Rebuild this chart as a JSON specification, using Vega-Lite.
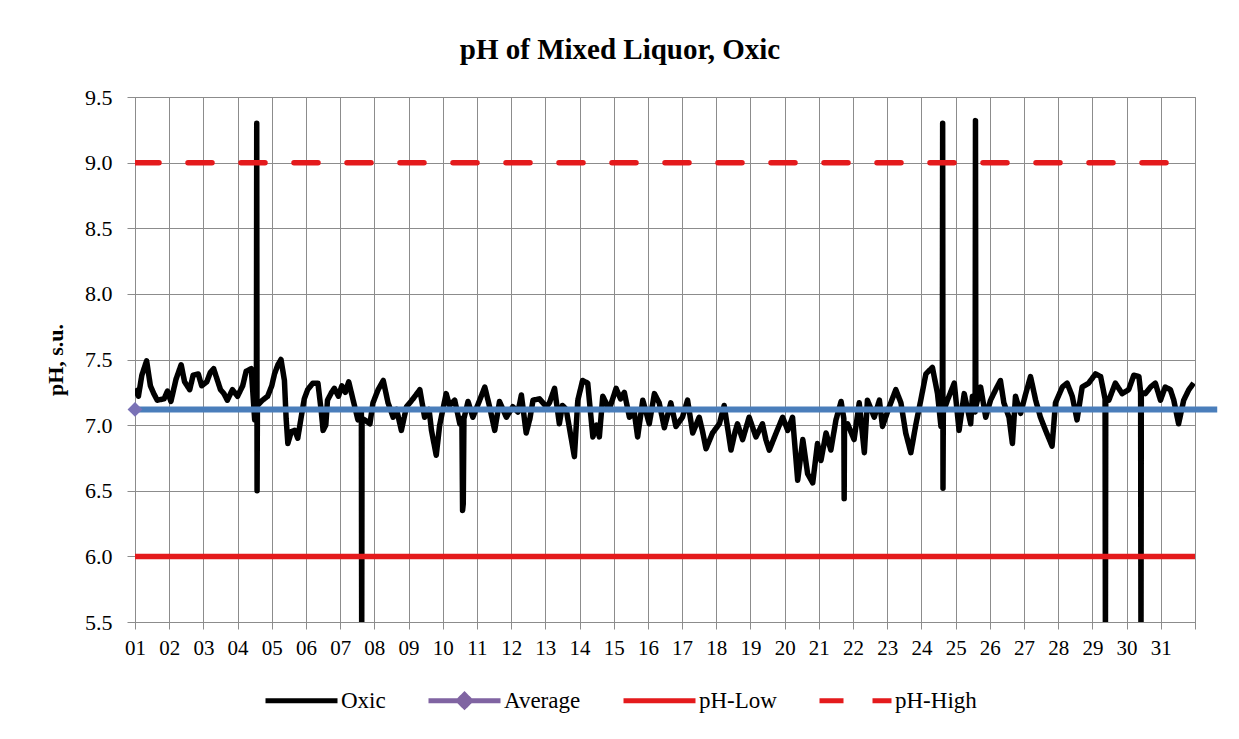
{
  "$schema": "https://vega.github.io/schema/vega-lite/v6.json",
  "autosize": "none",
  "width": 1060,
  "height": 525,
  "padding": {"left": 135, "top": 97, "right": 44, "bottom": 117},
  "background": "white",
  "title": {"text": "pH of Mixed Liquor,  Oxic", "font": "Liberation Serif", "fontSize": 29, "fontWeight": "bold", "color": "#000000", "anchor": "middle", "frame": "group", "dx": -45, "offset": 21},
  "config": {
    "view": {"stroke": "#8c8c8c", "strokeWidth": 1},
    "font": "Liberation Serif",
    "legend": {"labelFont": "Liberation Serif"},
    "axis": {"labelFont": "Liberation Serif", "labelFontSize": 21, "labelColor": "#000000", "gridColor": "#8c8c8c", "gridOpacity": 1, "gridWidth": 1, "domainColor": "#8c8c8c", "tickColor": "#8c8c8c", "titleFont": "Liberation Serif", "titleColor": "#000000"}
  },
  "datasets": {
    "oxic": [
      {"d":1.00,"v":7.28},{"d":1.10,"v":7.22},{"d":1.20,"v":7.38},{"d":1.34,"v":7.49},{"d":1.45,"v":7.30},{"d":1.55,"v":7.24},{"d":1.65,"v":7.19},{"d":1.85,"v":7.20},{"d":1.95,"v":7.26},{"d":2.05,"v":7.18},{"d":2.20,"v":7.35},{"d":2.35,"v":7.46},{"d":2.45,"v":7.33},{"d":2.60,"v":7.27},{"d":2.70,"v":7.38},{"d":2.85,"v":7.39},{"d":2.95,"v":7.30},{"d":3.10,"v":7.33},{"d":3.20,"v":7.40},{"d":3.30,"v":7.43},{"d":3.40,"v":7.35},{"d":3.50,"v":7.27},{"d":3.60,"v":7.24},{"d":3.70,"v":7.19},{"d":3.85,"v":7.27},{"d":4.00,"v":7.22},{"d":4.15,"v":7.30},{"d":4.25,"v":7.41},{"d":4.40,"v":7.43},{"d":4.50,"v":7.04},{"d":4.55,"v":7.10},{"d":4.56,"v":9.30},{"d":4.57,"v":6.50},{"d":4.58,"v":7.15},{"d":4.73,"v":7.19},{"d":4.88,"v":7.22},{"d":5.00,"v":7.30},{"d":5.08,"v":7.39},{"d":5.18,"v":7.46},{"d":5.27,"v":7.50},{"d":5.37,"v":7.34},{"d":5.42,"v":7.05},{"d":5.47,"v":6.86},{"d":5.57,"v":6.95},{"d":5.67,"v":6.96},{"d":5.76,"v":6.90},{"d":5.86,"v":7.06},{"d":5.95,"v":7.20},{"d":6.05,"v":7.27},{"d":6.20,"v":7.32},{"d":6.35,"v":7.32},{"d":6.45,"v":7.10},{"d":6.50,"v":6.96},{"d":6.58,"v":7.00},{"d":6.63,"v":7.19},{"d":6.75,"v":7.25},{"d":6.83,"v":7.28},{"d":6.95,"v":7.22},
      {"d":7.05,"v":7.30},{"d":7.15,"v":7.25},{"d":7.25,"v":7.33},{"d":7.38,"v":7.19},{"d":7.52,"v":7.04},{"d":7.62,"v":7.10},{"d":7.63,"v":5.30},{"d":7.64,"v":7.05},{"d":7.72,"v":7.04},{"d":7.87,"v":7.01},{"d":7.96,"v":7.17},{"d":8.11,"v":7.27},{"d":8.26,"v":7.34},{"d":8.40,"v":7.17},{"d":8.55,"v":7.06},{"d":8.65,"v":7.12},{"d":8.79,"v":6.96},{"d":8.94,"v":7.14},{"d":9.13,"v":7.20},{"d":9.33,"v":7.27},{"d":9.47,"v":7.06},{"d":9.60,"v":7.12},{"d":9.67,"v":6.96},{"d":9.81,"v":6.77},{"d":9.91,"v":7.00},{"d":10.10,"v":7.24},{"d":10.20,"v":7.15},{"d":10.35,"v":7.19},{"d":10.50,"v":7.01},{"d":10.56,"v":7.05},{"d":10.58,"v":6.35},{"d":10.60,"v":6.40},{"d":10.62,"v":7.05},{"d":10.74,"v":7.18},{"d":10.88,"v":7.06},{"d":11.08,"v":7.19},{"d":11.23,"v":7.29},{"d":11.37,"v":7.14},{"d":11.52,"v":6.96},{"d":11.66,"v":7.18},{"d":11.86,"v":7.06},{"d":12.05,"v":7.14},{"d":12.20,"v":7.10},{"d":12.30,"v":7.23},{"d":12.44,"v":6.94},{"d":12.55,"v":7.05},{"d":12.64,"v":7.19},{"d":12.83,"v":7.20},{"d":13.03,"v":7.14},
      {"d":13.12,"v":7.17},{"d":13.27,"v":7.28},{"d":13.41,"v":7.01},{"d":13.50,"v":7.15},{"d":13.61,"v":7.12},{"d":13.75,"v":6.91},{"d":13.85,"v":6.76},{"d":13.95,"v":7.19},{"d":14.09,"v":7.34},{"d":14.24,"v":7.32},{"d":14.39,"v":6.91},{"d":14.50,"v":7.00},{"d":14.58,"v":6.91},{"d":14.68,"v":7.22},{"d":14.87,"v":7.12},{"d":15.07,"v":7.28},{"d":15.20,"v":7.20},{"d":15.31,"v":7.25},{"d":15.46,"v":7.06},{"d":15.60,"v":7.10},{"d":15.70,"v":6.91},{"d":15.85,"v":7.19},{"d":16.04,"v":7.01},{"d":16.19,"v":7.24},{"d":16.33,"v":7.17},{"d":16.48,"v":6.98},{"d":16.67,"v":7.17},{"d":16.82,"v":6.99},{"d":17.01,"v":7.06},{"d":17.16,"v":7.19},{"d":17.31,"v":6.94},{"d":17.50,"v":7.06},{"d":17.60,"v":6.95},{"d":17.70,"v":6.82},{"d":17.89,"v":6.94},{"d":18.09,"v":7.01},{"d":18.23,"v":7.15},{"d":18.43,"v":6.81},{"d":18.55,"v":6.95},{"d":18.62,"v":7.01},{"d":18.77,"v":6.89},{"d":18.96,"v":7.06},{"d":19.16,"v":6.91},{"d":19.35,"v":7.01},
      {"d":19.45,"v":6.89},{"d":19.55,"v":6.81},{"d":19.75,"v":6.94},{"d":19.94,"v":7.06},{"d":20.09,"v":6.96},{"d":20.23,"v":7.06},{"d":20.38,"v":6.58},{"d":20.53,"v":6.89},{"d":20.67,"v":6.63},{"d":20.82,"v":6.56},{"d":20.96,"v":6.86},{"d":21.06,"v":6.73},{"d":21.21,"v":6.94},{"d":21.35,"v":6.81},{"d":21.50,"v":7.04},{"d":21.65,"v":7.18},{"d":21.73,"v":7.05},{"d":21.74,"v":6.44},{"d":21.75,"v":7.00},{"d":21.84,"v":7.01},{"d":22.03,"v":6.89},{"d":22.18,"v":7.17},{"d":22.33,"v":6.79},{"d":22.42,"v":7.19},{"d":22.62,"v":7.06},{"d":22.77,"v":7.19},{"d":22.86,"v":6.99},{"d":23.06,"v":7.14},{"d":23.25,"v":7.27},{"d":23.40,"v":7.17},{"d":23.54,"v":6.94},{"d":23.69,"v":6.79},{"d":23.84,"v":7.01},{"d":23.98,"v":7.19},{"d":24.13,"v":7.39},{"d":24.32,"v":7.44},{"d":24.47,"v":7.24},{"d":24.57,"v":6.99},{"d":24.61,"v":7.10},{"d":24.62,"v":9.30},{"d":24.63,"v":6.52},{"d":24.64,"v":7.10},{"d":24.76,"v":7.19},{"d":24.96,"v":7.32},{"d":25.10,"v":6.96},{"d":25.25,"v":7.24},{"d":25.44,"v":7.01},
      {"d":25.49,"v":7.22},{"d":25.57,"v":7.10},{"d":25.58,"v":9.32},{"d":25.59,"v":7.14},{"d":25.73,"v":7.29},{"d":25.88,"v":7.06},{"d":26.02,"v":7.19},{"d":26.17,"v":7.27},{"d":26.31,"v":7.34},{"d":26.41,"v":7.17},{"d":26.56,"v":7.06},{"d":26.66,"v":6.86},{"d":26.75,"v":7.22},{"d":26.90,"v":7.09},{"d":27.05,"v":7.24},{"d":27.19,"v":7.37},{"d":27.34,"v":7.19},{"d":27.48,"v":7.06},{"d":27.63,"v":6.96},{"d":27.82,"v":6.84},{"d":27.92,"v":7.17},{"d":28.12,"v":7.29},{"d":28.26,"v":7.32},{"d":28.41,"v":7.22},{"d":28.55,"v":7.04},{"d":28.70,"v":7.29},{"d":28.89,"v":7.32},{"d":29.09,"v":7.39},{"d":29.24,"v":7.37},{"d":29.37,"v":7.20},{"d":29.38,"v":5.30},{"d":29.39,"v":7.20},{"d":29.48,"v":7.19},{"d":29.67,"v":7.32},{"d":29.87,"v":7.24},{"d":30.06,"v":7.27},{"d":30.21,"v":7.38},{"d":30.36,"v":7.37},{"d":30.41,"v":7.25},{"d":30.42,"v":5.30},{"d":30.43,"v":7.25},{"d":30.55,"v":7.24},{"d":30.70,"v":7.29},{"d":30.84,"v":7.32},{"d":30.99,"v":7.19},{"d":31.13,"v":7.29},{"d":31.28,"v":7.27},{"d":31.38,"v":7.19},{"d":31.52,"v":7.01},{"d":31.67,"v":7.19},{"d":31.82,"v":7.27},{"d":31.96,"v":7.32}
    ],
    "refs": [
      {"d":1,"s":"Average","v":7.12},
      {"d":1,"s":"pH-Low","v":6.0},{"d":32,"s":"pH-Low","v":6.0},
      {"d":1,"s":"pH-High","v":9.0},{"d":32,"s":"pH-High","v":9.0}
    ],
    "trend": [{"d":1,"v":7.12},{"d":32.65,"v":7.12}],
    "avgpt": [{"d":1,"v":7.12}]
  },
  "encoding": {
    "x": {"field": "d", "type": "quantitative",
      "scale": {"domain": [1, 32], "nice": false, "zero": false},
      "axis": {"title": null, "values": [1,2,3,4,5,6,7,8,9,10,11,12,13,14,15,16,17,18,19,20,21,22,23,24,25,26,27,28,29,30,31,32],
        "labelExpr": "datum.value > 31 ? '' : (datum.value < 10 ? '0' : '') + datum.value",
        "tickSize": 7, "labelPadding": 8, "labelFlush": false, "labelOverlap": false, "grid": true}},
    "y": {"field": "v", "type": "quantitative",
      "scale": {"domain": [5.5, 9.5], "nice": false, "zero": false},
      "axis": {"title": "pH, s.u.", "titleFontSize": 22, "titleFontWeight": "bold", "titlePadding": 17, "values": [5.5,6,6.5,7,7.5,8,8.5,9,9.5], "format": ".1f", "tickSize": 8, "labelPadding": 15, "labelFontSize": 22, "grid": true}}
  },
  "layer": [
    {
      "data": {"name": "oxic"},
      "transform": [{"calculate": "'Oxic'", "as": "s"}],
      "mark": {"type": "line", "clip": true, "strokeWidth": 5.5, "strokeJoin": "round"},
      "encoding": {
        "color": {"field": "s", "type": "nominal",
          "scale": {"domain": ["Oxic", "Average", "pH-Low", "pH-High"], "range": ["#000000", "#8064A2", "#E41A1C", "#E41A1C"]},
          "legend": {"title": null, "orient": "none", "legendX": 128, "legendY": 565, "direction": "horizontal",
            "labelFont": "Liberation Serif", "labelFontSize": 23, "labelColor": "#000000", "labelOffset": 1,
            "symbolType": "stroke", "symbolSize": 5184, "symbolStrokeWidth": 5, "columnPadding": 32,
            "encode": {"symbols": {"update": {
              "shape": {"signal": "datum.value === 'Average' ? 'M-1,0H1M0,-0.17L0.17,0L0,0.17L-0.17,0Z' : 'M0,-0.17M0,0.17M-1,0H1'"},
              "fill": {"signal": "datum.value === 'Average' ? '#8064A2' : 'transparent'"}}},
              "labels": {"update": {"font": {"value": "Liberation Serif"}}}}}},
        "strokeDash": {"field": "s", "type": "nominal",
          "scale": {"domain": ["Oxic", "Average", "pH-Low", "pH-High"], "range": [[1,0],[1,0],[1,0],[24,29]]}}
      }
    },
    {
      "data": {"name": "refs"},
      "mark": {"type": "line", "clip": true, "strokeWidth": 5.5, "strokeCap": "round"},
      "encoding": {
        "color": {"field": "s", "type": "nominal"},
        "strokeDash": {"field": "s", "type": "nominal"}
      }
    },
    {
      "data": {"name": "trend"},
      "mark": {"type": "line", "clip": false, "color": "#4A7EBB", "strokeWidth": 6},
      "encoding": {}
    },
    {
      "data": {"name": "avgpt"},
      "mark": {"type": "point", "shape": "diamond", "filled": true, "color": "#7A72B6", "opacity": 1, "size": 220},
      "encoding": {}
    }
  ]
}
